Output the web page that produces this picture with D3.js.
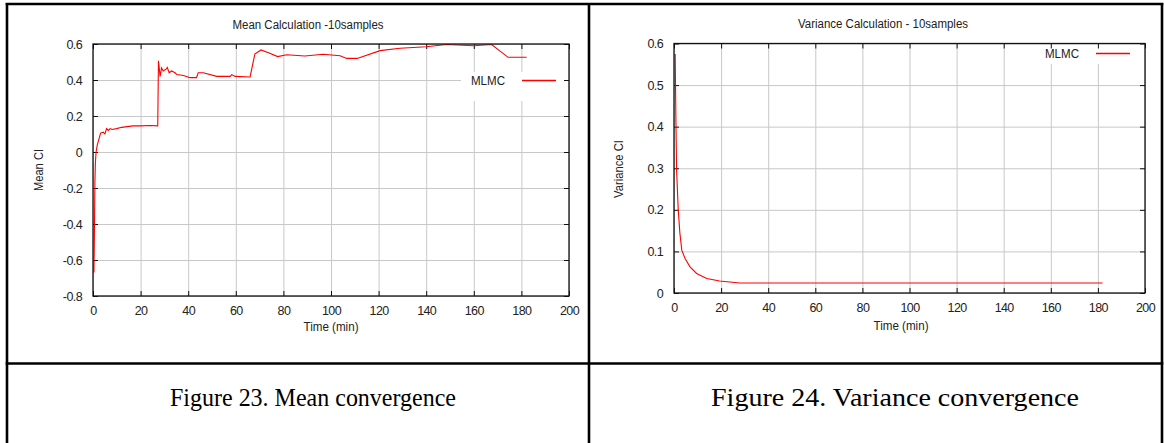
<!DOCTYPE html>
<html><head><meta charset="utf-8">
<script src="https://cdn.jsdelivr.net/npm/d3@7/dist/d3.min.js"></script>
<style>body{margin:0;background:#fff;}svg{display:block;}</style>
</head><body>
<svg id="c" width="1164" height="443"></svg>
<script>
// ---- data ----
const xTicks = [0, 20, 40, 60, 80, 100, 120, 140, 160, 180, 200];
const meanTicks = [-0.8, -0.6, -0.4, -0.2, 0, 0.2, 0.4, 0.6];
const varTicks = [0, 0.1, 0.2, 0.3, 0.4, 0.5, 0.6];
const meanTime = [0.4,0.6,0.8,1.0,1.3,1.8,2.4,3.2,4.3,5.0,5.7,6.5,7.2,8.0,9.9,12,16.8,20,24,27.2,27.5,28.2,28.8,29.5,30.7,31.2,32,33,34.5,35.2,38,40.8,43.5,44.2,46.3,52,57.6,58.3,59.7,66,68,70.6,74,77.6,81.4,89,96.7,103.8,106.6,111,120.6,129,140,148.6,160,167.5,174.4,182.2];
const meanCI = [-0.67,-0.45,-0.17,-0.06,0.0,0.04,0.067,0.105,0.11,0.1,0.13,0.12,0.13,0.125,0.13,0.137,0.145,0.145,0.147,0.145,0.507,0.42,0.467,0.45,0.46,0.47,0.44,0.45,0.44,0.43,0.425,0.413,0.413,0.44,0.44,0.42,0.42,0.43,0.42,0.417,0.544,0.567,0.55,0.53,0.54,0.533,0.543,0.535,0.52,0.52,0.563,0.576,0.585,0.597,0.59,0.597,0.526,0.526];
const varTime = [0.5,0.8,1.1,1.8,2.5,3.3,4.7,6.8,9.6,13.9,19.4,27.9,40,60,100,140,182];
const varCI = [0.575,0.42,0.295,0.2,0.144,0.103,0.083,0.063,0.047,0.035,0.029,0.024,0.024,0.024,0.024,0.024,0.024];
const seriesName = "MLMC";
const titles = ["Mean Calculation -10samples", "Variance Calculation - 10samples"];
const yLabels = ["Mean CI", "Variance CI"];
const xLabel = "Time (min)";
const captions = ["Figure 23. Mean convergence", "Figure 24. Variance convergence"];

const svg = d3.select("#c");
const FONT = "'Liberation Sans', Arial, sans-serif";
const TXT = "#222";
const fmtY = d => String(+d.toFixed(1)).replace("\u2212", "-");

function chart(o) {
  const g = svg.append("g");
  const x = d3.scaleLinear().domain([0, 200]).range([o.left, o.right]);
  const y = d3.scaleLinear().domain(o.yDomain).range([o.bottom, o.top]);
  // grid
  g.append("g").attr("transform", `translate(0,${o.bottom})`)
    .call(d3.axisBottom(x).tickValues(xTicks).tickSize(-(o.bottom - o.top)).tickFormat(""))
    .call(a => a.select(".domain").remove())
    .call(a => a.selectAll("line").attr("stroke", "#c8c8c8").attr("stroke-width", 1));
  g.append("g").attr("transform", `translate(${o.left},0)`)
    .call(d3.axisLeft(y).tickValues(o.yTicks).tickSize(-(o.right - o.left)).tickFormat(""))
    .call(a => a.select(".domain").remove())
    .call(a => a.selectAll("line").attr("stroke", "#c8c8c8").attr("stroke-width", 1));
  // legend box (white) hides grid
  g.append("rect").attr("x", o.legX - 44).attr("y", o.legY - 13)
    .attr("width", o.legW).attr("height", o.legH).attr("fill", "#fff");
  // inward ticks all sides
  const T = 5;
  g.append("g").attr("transform", `translate(0,${o.bottom})`)
    .call(d3.axisTop(x).tickValues(xTicks).tickSize(T).tickFormat(""))
    .call(a => a.select(".domain").remove()).selectAll("line").attr("stroke", "#111");
  g.append("g").attr("transform", `translate(0,${o.top})`)
    .call(d3.axisBottom(x).tickValues(xTicks).tickSize(T).tickFormat(""))
    .call(a => a.select(".domain").remove()).selectAll("line").attr("stroke", "#111");
  g.append("g").attr("transform", `translate(${o.left},0)`)
    .call(d3.axisRight(y).tickValues(o.yTicks).tickSize(T).tickFormat(""))
    .call(a => a.select(".domain").remove()).selectAll("line").attr("stroke", "#111");
  g.append("g").attr("transform", `translate(${o.right},0)`)
    .call(d3.axisLeft(y).tickValues(o.yTicks).tickSize(T).tickFormat(""))
    .call(a => a.select(".domain").remove()).selectAll("line").attr("stroke", "#111");
  // tick labels
  g.append("g").attr("transform", `translate(0,${o.bottom})`)
    .call(d3.axisBottom(x).tickValues(xTicks).tickSize(0).tickPadding(10).tickFormat(d3.format("d")))
    .call(a => a.select(".domain").remove())
    .call(a => a.selectAll("text").attr("font-family", FONT).attr("font-size", 12.5)
      .attr("letter-spacing", "-0.6px").attr("fill", TXT));
  g.append("g").attr("transform", `translate(${o.left},0)`)
    .call(d3.axisLeft(y).tickValues(o.yTicks).tickSize(0).tickPadding(11).tickFormat(fmtY))
    .call(a => a.select(".domain").remove())
    .call(a => a.selectAll("text").attr("font-family", FONT).attr("font-size", 12.5)
      .attr("letter-spacing", "-0.6px").attr("fill", TXT));
  // data
  const line = d3.line().x(d => x(d[0])).y(d => y(d[1]));
  g.append("path").datum(o.t.map((t, i) => [t, o.v[i]]))
    .attr("d", line).attr("fill", "none").attr("stroke", "#ff0000").attr("stroke-width", 1.1);
  // frame
  g.append("rect").attr("x", o.left).attr("y", o.top).attr("width", o.right - o.left)
    .attr("height", o.bottom - o.top).attr("fill", "none").attr("stroke", "#111").attr("stroke-width", 1.3);
  // legend
  g.append("text").attr("x", o.legX).attr("y", o.legY).attr("text-anchor", "end")
    .attr("font-family", FONT).attr("font-size", 12.5).attr("fill", TXT)
    .attr("textLength", 34).attr("lengthAdjust", "spacingAndGlyphs").text(seriesName);
  g.append("line").attr("x1", o.legX + 17).attr("x2", o.legX + 51)
    .attr("y1", o.legY - 4.5).attr("y2", o.legY - 4.5)
    .attr("stroke", "#ff0000").attr("stroke-width", 1.3);
  // title
  g.append("text").attr("x", o.titleX).attr("y", o.titleY).attr("text-anchor", "middle")
    .attr("font-family", FONT).attr("font-size", 12.5).attr("fill", TXT)
    .attr("textLength", o.titleW).attr("lengthAdjust", "spacingAndGlyphs").text(o.title);
  // x label
  g.append("text").attr("x", o.xlabX).attr("y", o.xlabY).attr("text-anchor", "middle")
    .attr("font-family", FONT).attr("font-size", 12.5).attr("fill", TXT)
    .attr("textLength", 55).attr("lengthAdjust", "spacingAndGlyphs").text(xLabel);
  // y label
  g.append("text").attr("transform", `translate(${o.ylabX},${o.ylabY}) rotate(-90)`)
    .attr("text-anchor", "middle")
    .attr("font-family", FONT).attr("font-size", 12.5).attr("fill", TXT)
    .attr("textLength", o.ylabW).attr("lengthAdjust", "spacingAndGlyphs").text(o.ylab);
}

chart({left: 93, right: 569, top: 44, bottom: 296, yDomain: [-0.8, 0.6], yTicks: meanTicks,
  t: meanTime, v: meanCI, legX: 505, legY: 85, legW: 104, legH: 29,
  title: titles[0], titleX: 308, titleY: 29, titleW: 151,
  xlabX: 331, xlabY: 331, ylab: yLabels[0], ylabX: 43, ylabY: 170, ylabW: 42});
chart({left: 674, right: 1145, top: 43.5, bottom: 293, yDomain: [0, 0.6], yTicks: varTicks,
  t: varTime, v: varCI, legX: 1079, legY: 58, legW: 104, legH: 19,
  title: titles[1], titleX: 883, titleY: 28, titleW: 170,
  xlabX: 901, xlabY: 330, ylab: yLabels[1], ylabX: 623, ylabY: 169, ylabW: 58});

// table borders
const B = "#000", BW = 2.6;
[[7, 3, 7, 443], [589, 3, 589, 443], [1162, 3, 1162, 443], [5.7, 4, 1163.3, 4], [5.7, 363.5, 1163.3, 363.5]]
  .forEach(l => svg.append("line").attr("x1", l[0]).attr("y1", l[1]).attr("x2", l[2]).attr("y2", l[3])
    .attr("stroke", B).attr("stroke-width", BW));

// captions
[[313, captions[0], 286], [895, captions[1], 368]].forEach(c => svg.append("text")
  .attr("x", c[0]).attr("y", 406).attr("text-anchor", "middle")
  .attr("font-family", "'Liberation Serif', 'Times New Roman', serif").attr("font-size", 26)
  .attr("textLength", c[2]).attr("lengthAdjust", "spacingAndGlyphs")
  .attr("fill", "#000").text(c[1]));
</script>
</body></html>
